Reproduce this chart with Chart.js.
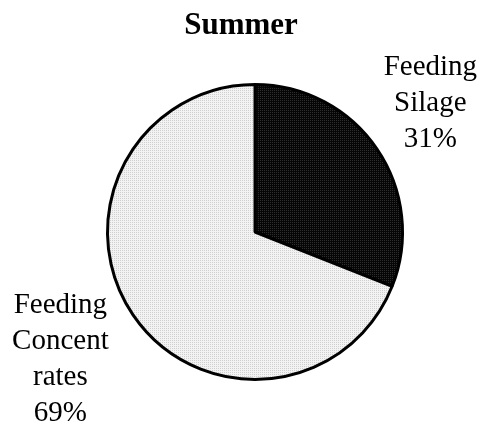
<!DOCTYPE html>
<html>
<head>
<meta charset="utf-8">
<script src="https://cdn.jsdelivr.net/npm/chart.js@4/dist/chart.umd.min.js"></script>
<style>
  html, body { margin: 0; padding: 0; background: #ffffff; }
  #wrap { width: 482px; height: 430px; position: relative; }
</style>
</head>
<body>
<div id="wrap"><canvas id="pie"></canvas></div>
<script>
// data
const chartTitle = 'Summer';
const categories = [['Feeding', 'Silage'], ['Feeding', 'Concent', 'rates']];
const shares = [31, 69];

// label placement along each slice's mid angle
const labelDist = [219, 231];
const labelNudgeDeg = [-2.6, 1.6];

// small dotted fill like the print screen
function makePattern(base, dot) {
  const c = document.createElement('canvas');
  c.width = 2;
  c.height = 2;
  const g = c.getContext('2d');
  g.fillStyle = base;
  g.fillRect(0, 0, 2, 2);
  g.fillStyle = dot;
  g.fillRect(0, 0, 1, 1);
  return g.createPattern(c, 'repeat');
}

// title + slice labels, drawn on the canvas
const textLayer = {
  id: 'textLayer',
  afterDatasetsDraw(chart) {
    const ctx = chart.ctx;
    const meta = chart.getDatasetMeta(0);
    ctx.save();
    ctx.fillStyle = '#000000';
    ctx.textAlign = 'center';
    ctx.textBaseline = 'middle';

    ctx.font = 'bold 31px "Liberation Serif", "Times New Roman", serif';
    ctx.fillText(chartTitle, chart.width / 2, 26);

    ctx.font = '29px "Liberation Serif", "Times New Roman", serif';
    meta.data.forEach((arc, i) => {
      const p = arc.getProps(['x', 'y', 'startAngle', 'endAngle'], true);
      const mid = (p.startAngle + p.endAngle) / 2 + labelNudgeDeg[i] * Math.PI / 180;
      const cx = p.x + Math.cos(mid) * labelDist[i];
      const cy = p.y + Math.sin(mid) * labelDist[i] + 3;
      const lines = categories[i].concat([shares[i] + '%']);
      const lh = 36;
      const top = cy - (lines.length - 1) * lh / 2;
      lines.forEach((t, k) => ctx.fillText(t, cx, top + k * lh));
    });
    ctx.restore();
  }
};

new Chart(document.getElementById('pie'), {
  type: 'pie',
  data: {
    labels: categories.map(c => c.join(' ')),
    datasets: [{
      data: shares,
      backgroundColor: [makePattern('#060606', '#2e2e2e'), makePattern('#f3f3f3', '#cfcfcf')],
      borderColor: '#000000',
      borderWidth: 3
    }]
  },
  options: {
    responsive: true,
    maintainAspectRatio: false,
    animation: false,
    layout: {
      padding: { left: 106, right: 78, top: 83, bottom: 49 }
    },
    plugins: {
      legend: { display: false },
      tooltip: { enabled: false },
      title: { display: false }
    }
  },
  plugins: [textLayer]
});
</script>
</body>
</html>
